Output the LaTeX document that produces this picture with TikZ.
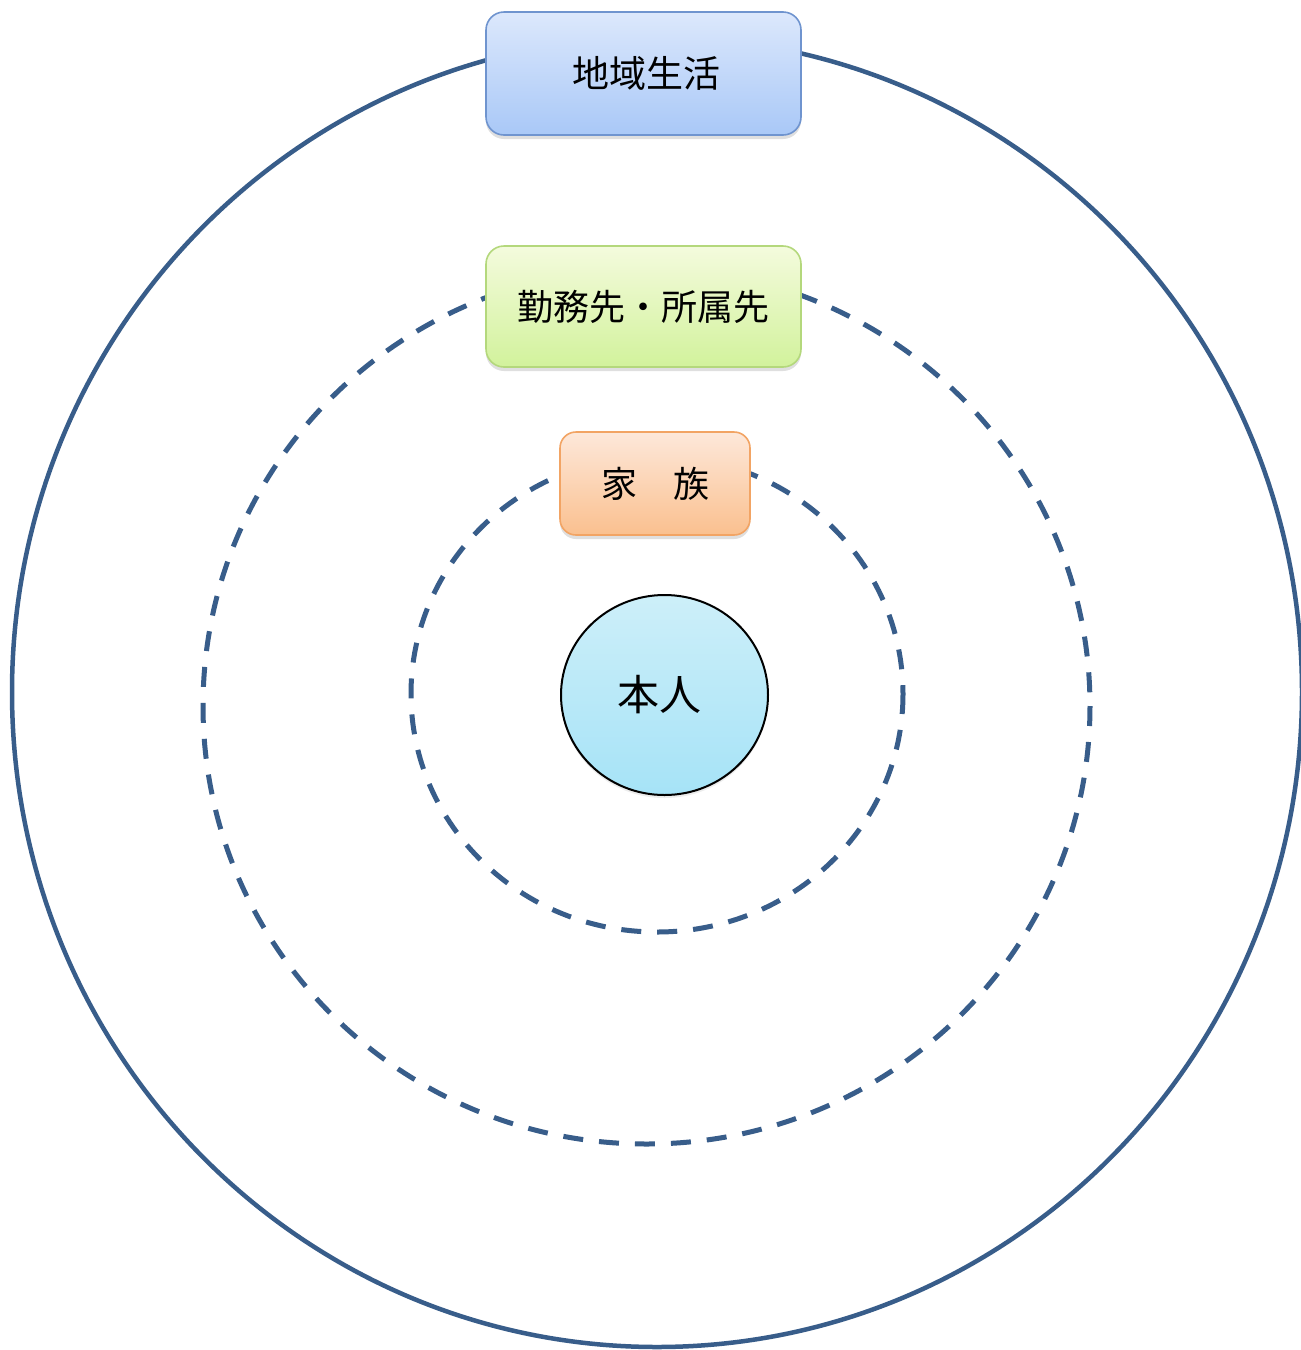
\documentclass[tikz,border=0pt]{standalone}
\usepackage{fontspec}
\setmainfont{Noto Sans CJK JP}
\usetikzlibrary{shadows,shapes.geometric}
\definecolor{ringblue}{HTML}{385D8A}
\definecolor{bluetop}{HTML}{DCE8FC}
\definecolor{bluebot}{HTML}{A9C8F7}
\definecolor{blueline}{HTML}{6F94CF}
\definecolor{greentop}{HTML}{F4FBDD}
\definecolor{greenbot}{HTML}{D2F29C}
\definecolor{greenline}{HTML}{B4D87C}
\definecolor{orangetop}{HTML}{FDE8DA}
\definecolor{orangebot}{HTML}{FAC08F}
\definecolor{orangeline}{HTML}{F2A464}
\definecolor{selftop}{HTML}{CDEFF9}
\definecolor{selfbot}{HTML}{A6E3F7}
\tikzset{
  solidring/.style={draw=ringblue, line width=4.5pt},
  dashring/.style={draw=ringblue, line width=5pt, dash pattern=on 20pt off 16pt},
  labelbox/.style={rectangle, rounded corners=18pt, line width=1.6pt, align=center,
    font=\fontsize{36pt}{42pt}\selectfont, text=black,
    drop shadow={opacity=0.25, shadow xshift=0pt, shadow yshift=-4pt}},
}
\begin{document}
\begin{tikzpicture}[x=1pt,y=-1pt]
\useasboundingbox (0,0) rectangle (1301,1350);
\fill[white] (0,0) rectangle (1301,1350);
% rings
\draw[solidring] (657,692) ellipse [x radius=645, y radius=655];
\draw[dashring] (646.5,706) ellipse [x radius=443.5, y radius=438];
\draw[dashring] (657,694) ellipse [x radius=246, y radius=238];
% boxes
\node[labelbox, draw=blueline, top color=bluetop, bottom color=bluebot,
  minimum width=315pt, minimum height=123pt, font=\fontsize{37pt}{42pt}\selectfont] (chiiki) at (643.5,73.5) {\hspace*{5pt}地域生活};
\node[labelbox, draw=greenline, top color=greentop, bottom color=greenbot,
  minimum width=315pt, minimum height=121pt] (kinmu) at (643.5,306.5) {勤務先・所属先};
\node[labelbox, rounded corners=16pt, draw=orangeline, top color=orangetop, bottom color=orangebot,
  minimum width=190pt, minimum height=103pt] (kazoku) at (655,483.5) {家　族};
\node[ellipse, draw=black, line width=2pt, top color=selftop, bottom color=selfbot,
  minimum width=207pt, minimum height=200pt, inner sep=0pt,
  font=\fontsize{42pt}{48pt}\selectfont,
  drop shadow={opacity=0.15, shadow xshift=0pt, shadow yshift=-3pt}] (honnin) at (664.5,695) {\hspace*{-10pt}本人};
\end{tikzpicture}
\end{document}
